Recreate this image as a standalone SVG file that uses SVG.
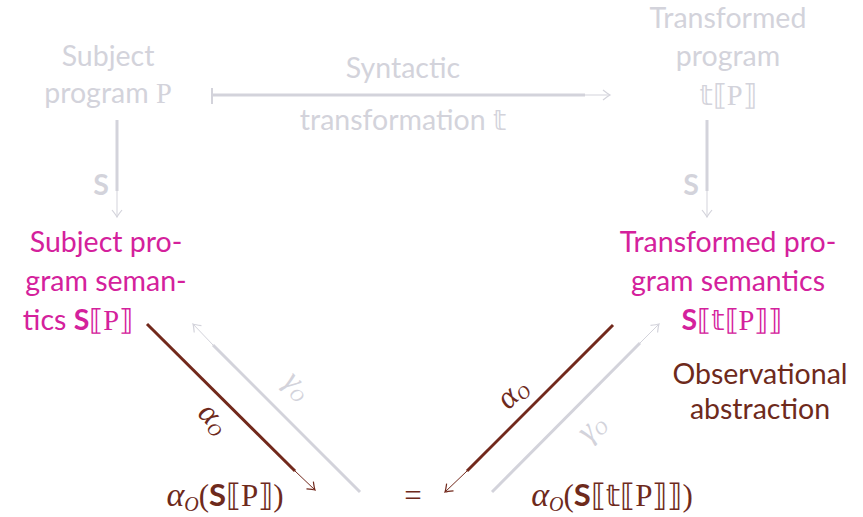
<svg xmlns="http://www.w3.org/2000/svg" width="863" height="517" viewBox="0 0 863 517">
<style>
.t{font-family:"Lato","Liberation Sans",sans-serif;font-size:28.5px;text-anchor:middle}
.g{fill:#d3d3db}
.m{fill:#d4219c}
.b{fill:#6e2a1c}
.s{font-family:"Liberation Serif","DejaVu Serif",serif}
.ds{font-family:"DejaVu Sans",sans-serif}
.o{font-family:"Liberation Serif","DejaVu Serif",serif;font-style:italic}
.bf{font-weight:bold}
.lg{stroke:#d3d3db;fill:none}
.lb{stroke:#72291c;fill:none}
</style>
<defs>
<marker id="ag" markerUnits="userSpaceOnUse" markerWidth="14" markerHeight="14" refX="0" refY="0" viewBox="-8 -7 10 14" orient="auto">
<path d="M-7,-5 Q-2,-1 0,0 Q-2,1 -7,5" stroke="#d3d3db" stroke-width="1.2" fill="none"/>
</marker>
<marker id="ab" markerUnits="userSpaceOnUse" markerWidth="14" markerHeight="14" refX="0" refY="0" viewBox="-8 -7 10 14" orient="auto">
<path d="M-7,-5 Q-2,-1 0,0 Q-2,1 -7,5" stroke="#72291c" stroke-width="1.2" fill="none"/>
</marker>
</defs>

<g id="subject-program" class="t g">
<text x="108" y="66">Subject</text>
<text x="108" y="103">program <tspan class="s">P</tspan></text>
</g>

<g id="transformed-program" class="t g">
<text x="728" y="28">Transformed</text>
<text x="728" y="66">program</text>
<text x="728" y="105"><tspan class="ds">𝕥</tspan><tspan class="s">⟦P⟧</tspan></text>
</g>

<g id="subject-semantics" class="t m">
<text x="106" y="252">Subject pro-</text>
<text x="106" y="291">gram seman-</text>
<text x="78" y="330">tics <tspan class="bf">S</tspan><tspan class="s">⟦P⟧</tspan></text>
</g>

<g id="transformed-semantics" class="t m">
<text x="728" y="252">Transformed pro-</text>
<text x="728" y="291">gram semantics</text>
<text x="732" y="330"><tspan class="bf">S</tspan><tspan class="s">⟦</tspan><tspan class="ds">𝕥</tspan><tspan class="s">⟦P⟧⟧</tspan></text>
</g>

<g id="observational-label" class="t b">
<text x="760" y="384">Observational</text>
<text x="760" y="419">abstraction</text>
</g>

<g id="abs-subject" class="t b" font-size="31">
<text x="225" y="506" font-size="31"><tspan class="s" font-style="italic" font-size="34">α</tspan><tspan class="o" font-size="20" dy="5">O</tspan><tspan dy="-5" class="s">(</tspan><tspan class="bf">S</tspan><tspan class="s">⟦P⟧)</tspan></text>
</g>

<g id="equals" class="t b">
<text x="413" y="506" class="s" font-size="31">=</text>
</g>

<g id="abs-transformed" class="t b">
<text x="612" y="506" font-size="31"><tspan class="s" font-style="italic" font-size="34">α</tspan><tspan class="o" font-size="20" dy="5">O</tspan><tspan dy="-5" class="s">(</tspan><tspan class="bf">S</tspan><tspan class="s">⟦</tspan><tspan class="ds">𝕥</tspan><tspan class="s">⟦P⟧⟧)</tspan></text>
</g>

<g id="connectors">
<!-- syntactic transformation -->
<line class="lg" x1="212" y1="88" x2="212" y2="104" stroke-width="2"/>
<line class="lg" x1="212" y1="95" x2="585" y2="95" stroke-width="3"/>
<line class="lg" x1="585" y1="95" x2="610" y2="95" stroke-width="1" marker-end="url(#ag)"/>
<text class="t g" x="403" y="78">Syntactic</text>
<text class="t g" x="403" y="130">transformation <tspan class="ds">𝕥</tspan></text>

<!-- S left -->
<line class="lg" x1="117" y1="120" x2="117" y2="191" stroke-width="3"/>
<line class="lg" x1="117" y1="191" x2="117" y2="217" stroke-width="1" marker-end="url(#ag)"/>
<text class="t g bf" x="101" y="195">S</text>

<!-- S right -->
<line class="lg" x1="707" y1="120" x2="707" y2="191" stroke-width="3"/>
<line class="lg" x1="707" y1="191" x2="707" y2="217" stroke-width="1" marker-end="url(#ag)"/>
<text class="t g bf" x="691" y="195">S</text>

<!-- left alpha -->
<line class="lb" x1="147" y1="324" x2="295" y2="471" stroke-width="3"/>
<line class="lb" x1="295" y1="471" x2="315" y2="490" stroke-width="1" marker-end="url(#ab)"/>
<text class="s b" font-size="32" font-style="italic" transform="translate(207,425) rotate(45)" text-anchor="middle">α<tspan class="o" font-size="18" dy="4">O</tspan></text>

<!-- left gamma -->
<line class="lg" x1="360" y1="492" x2="213" y2="345" stroke-width="3"/>
<line class="lg" x1="213" y1="345" x2="193" y2="324" stroke-width="1" marker-end="url(#ag)"/>
<text class="s g" font-size="32" font-style="italic" transform="translate(291,392) rotate(45)" text-anchor="middle">γ<tspan class="o" font-size="18" dy="4">O</tspan></text>

<!-- right alpha -->
<line class="lb" x1="613" y1="325" x2="467" y2="471" stroke-width="3"/>
<line class="lb" x1="467" y1="471" x2="445" y2="492" stroke-width="1" marker-end="url(#ab)"/>
<text class="s b" font-size="32" font-style="italic" transform="translate(519,400) rotate(-45)" text-anchor="middle">α<tspan class="o" font-size="18" dy="4">O</tspan></text>

<!-- right gamma -->
<line class="lg" x1="492" y1="492" x2="640" y2="343" stroke-width="3"/>
<line class="lg" x1="640" y1="343" x2="659" y2="324" stroke-width="1" marker-end="url(#ag)"/>
<text class="s g" font-size="32" font-style="italic" transform="translate(598,434) rotate(-45)" text-anchor="middle">γ<tspan class="o" font-size="18" dy="4">O</tspan></text>
</g>
</svg>
